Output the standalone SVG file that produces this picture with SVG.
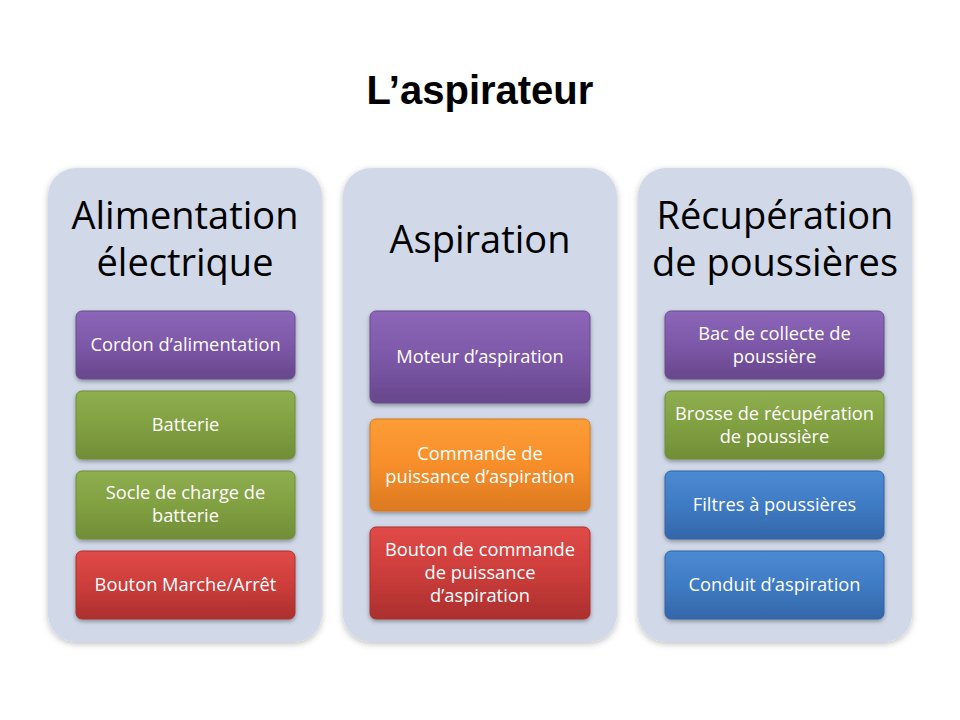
<svg xmlns="http://www.w3.org/2000/svg" width="960" height="720" viewBox="0 0 960 720">
<defs>
<linearGradient id="gPurple" x1="0" y1="0" x2="0" y2="1"><stop offset="0" stop-color="#8c66b8"/><stop offset="0.5" stop-color="#7d58a8"/><stop offset="1" stop-color="#67478c"/></linearGradient>
<linearGradient id="gGreen" x1="0" y1="0" x2="0" y2="1"><stop offset="0" stop-color="#8fae4f"/><stop offset="0.5" stop-color="#81a041"/><stop offset="1" stop-color="#718e37"/></linearGradient>
<linearGradient id="gRed" x1="0" y1="0" x2="0" y2="1"><stop offset="0" stop-color="#e04a48"/><stop offset="0.5" stop-color="#cc3d3b"/><stop offset="1" stop-color="#ab2f2e"/></linearGradient>
<linearGradient id="gOrange" x1="0" y1="0" x2="0" y2="1"><stop offset="0" stop-color="#fd9d36"/><stop offset="0.5" stop-color="#f78e2a"/><stop offset="1" stop-color="#dc7920"/></linearGradient>
<linearGradient id="gBlue" x1="0" y1="0" x2="0" y2="1"><stop offset="0" stop-color="#4b8ad3"/><stop offset="0.5" stop-color="#3f7bc4"/><stop offset="1" stop-color="#3466a8"/></linearGradient>
<filter id="sh" x="-10%" y="-10%" width="120%" height="130%"><feDropShadow dx="0" dy="2" stdDeviation="2" flood-color="#000" flood-opacity="0.35"/></filter>
<filter id="psh" x="-10%" y="-10%" width="120%" height="120%"><feDropShadow dx="0" dy="2" stdDeviation="3" flood-color="#000" flood-opacity="0.25"/></filter>
</defs>
<style>
.panel{fill:#d1d9e8;filter:url(#psh)}
.box{filter:url(#sh);stroke-width:1}
.head{font-family:"Open Sans","Noto Sans",sans-serif;font-size:38px;fill:#000;text-anchor:middle}
.lbl{font-family:"Open Sans","Noto Sans",sans-serif;font-size:18.3px;fill:#fff;text-anchor:middle}
.title{font-family:"Liberation Sans",Arial,sans-serif;font-size:40px;font-weight:bold;fill:#000;text-anchor:middle}
</style>
<rect width="960" height="720" fill="#fff"/>
<text class="title" x="480" y="104">L’aspirateur</text>

<g id="panel-alimentation">
<rect class="panel" x="48" y="168" width="274" height="474" rx="28"/>
<text class="head" x="185" y="229">Alimentation</text>
<text class="head" x="185" y="276">électrique</text>
</g>
<g id="panel-aspiration">
<rect class="panel" x="343" y="168" width="274" height="474" rx="28"/>
<text class="head" x="480" y="253">Aspiration</text>
</g>
<g id="panel-recuperation">
<rect class="panel" x="638" y="168" width="274" height="474" rx="28"/>
<text class="head" x="775" y="229">Récupération</text>
<text class="head" x="775" y="276">de poussières</text>
</g>

<g id="n-cordon"><rect class="box" x="76" y="311" width="219" height="68" rx="6" fill="url(#gPurple)" stroke="#6a4b8e"/><text class="lbl" x="185.5" y="351">Cordon d’alimentation</text></g>
<g id="n-batterie"><rect class="box" x="76" y="391" width="219" height="68" rx="6" fill="url(#gGreen)" stroke="#6f8b37"/><text class="lbl" x="185.5" y="431">Batterie</text></g>
<g id="n-socle"><rect class="box" x="76" y="471" width="219" height="68" rx="6" fill="url(#gGreen)" stroke="#6f8b37"/><text class="lbl" x="185.5" y="499">Socle de charge de</text><text class="lbl" x="185.5" y="522">batterie</text></g>
<g id="n-bouton-ma"><rect class="box" x="76" y="551" width="219" height="68" rx="6" fill="url(#gRed)" stroke="#a83030"/><text class="lbl" x="185.5" y="591">Bouton Marche/Arrêt</text></g>

<g id="n-moteur"><rect class="box" x="370" y="311" width="220" height="92" rx="6" fill="url(#gPurple)" stroke="#6a4b8e"/><text class="lbl" x="480" y="363">Moteur d’aspiration</text></g>
<g id="n-commande"><rect class="box" x="370" y="419" width="220" height="92" rx="6" fill="url(#gOrange)" stroke="#d4781f"/><text class="lbl" x="480" y="460">Commande de</text><text class="lbl" x="480" y="483">puissance d’aspiration</text></g>
<g id="n-bouton-cmd"><rect class="box" x="370" y="527" width="220" height="92" rx="6" fill="url(#gRed)" stroke="#a83030"/><text class="lbl" x="480" y="556">Bouton de commande</text><text class="lbl" x="480" y="579">de puissance</text><text class="lbl" x="480" y="602">d’aspiration</text></g>

<g id="n-bac"><rect class="box" x="665" y="311" width="219" height="68" rx="6" fill="url(#gPurple)" stroke="#6a4b8e"/><text class="lbl" x="774.5" y="340">Bac de collecte de</text><text class="lbl" x="774.5" y="363">poussière</text></g>
<g id="n-brosse"><rect class="box" x="665" y="391" width="219" height="68" rx="6" fill="url(#gGreen)" stroke="#6f8b37"/><text class="lbl" x="774.5" y="420">Brosse de récupération</text><text class="lbl" x="774.5" y="443">de poussière</text></g>
<g id="n-filtres"><rect class="box" x="665" y="471" width="219" height="68" rx="6" fill="url(#gBlue)" stroke="#3262a2"/><text class="lbl" x="774.5" y="511">Filtres à poussières</text></g>
<g id="n-conduit"><rect class="box" x="665" y="551" width="219" height="68" rx="6" fill="url(#gBlue)" stroke="#3262a2"/><text class="lbl" x="774.5" y="591">Conduit d’aspiration</text></g>

<g id="connectors"></g>
</svg>
